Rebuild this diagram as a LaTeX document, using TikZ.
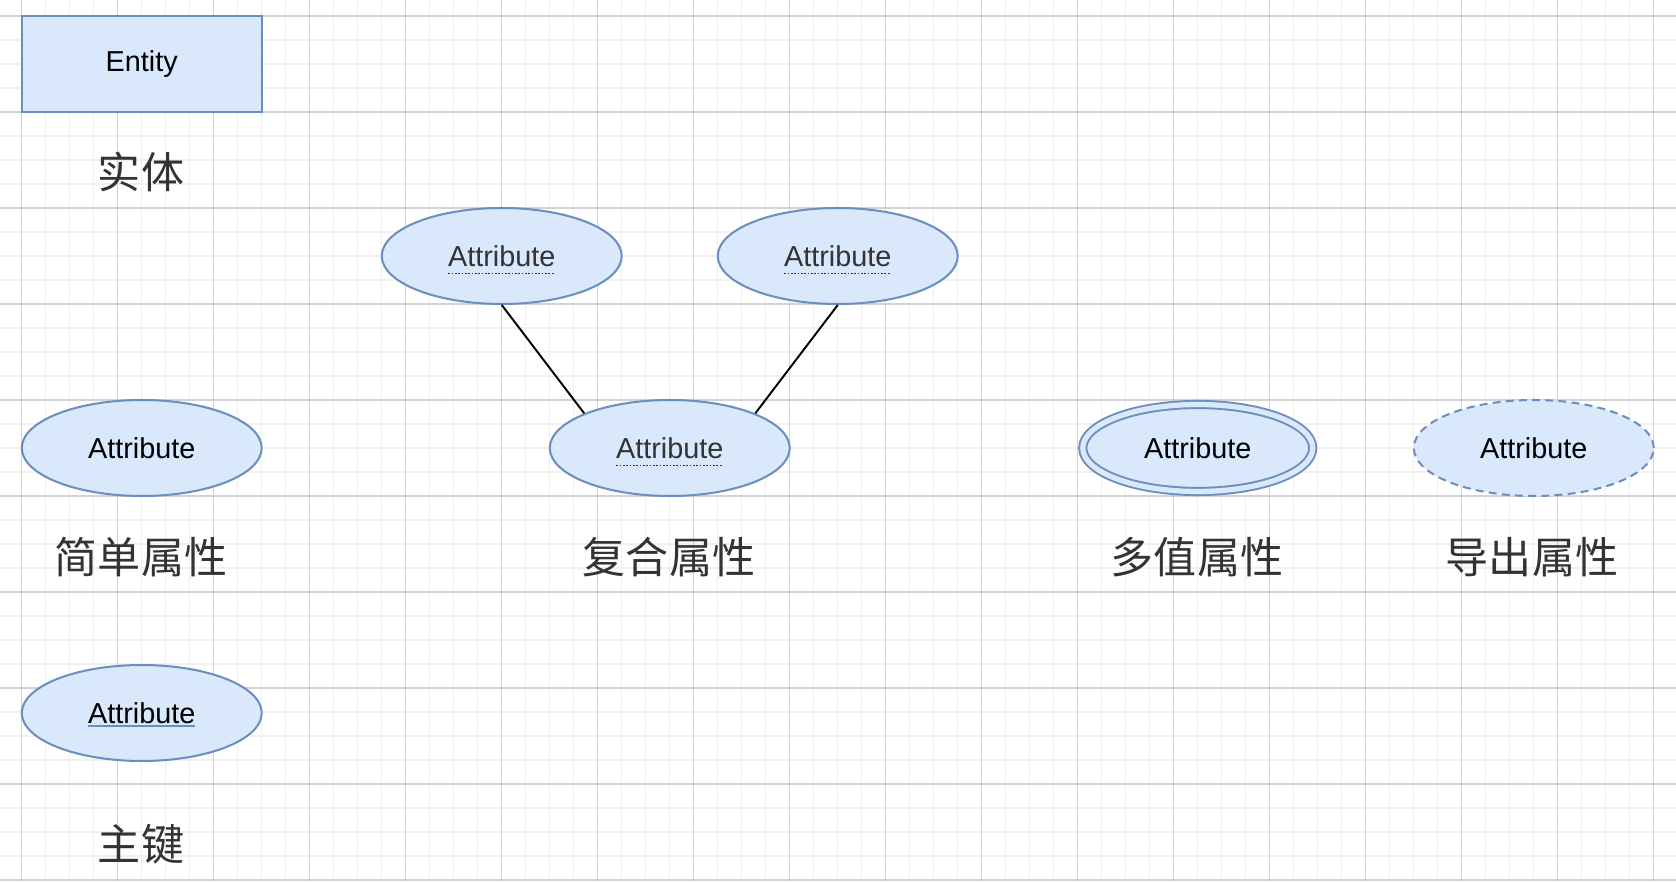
\documentclass[tikz,border=0pt]{standalone}
\usepackage{fontspec}
\setmainfont{Liberation Sans}
\newfontfamily\cjkfont{Noto Sans CJK SC}
\usetikzlibrary{shapes.geometric}

\definecolor{attrfill}{HTML}{DAE8FC}
\definecolor{attrline}{HTML}{6C8EBF}
\definecolor{labelgray}{HTML}{333333}
\definecolor{gridmajor}{HTML}{D3D3D3}
\definecolor{gridminor}{HTML}{F0F0F0}

\begin{document}
\begin{tikzpicture}[x=0.02cm, y=0.02cm,
  entity/.style={draw=attrline, fill=attrfill, line width=1.15pt, minimum width=4.8cm, minimum height=1.92cm, font=\fontsize{16.4}{18}\selectfont},
  attr/.style={ellipse, draw=attrline, fill=attrfill, line width=1.15pt, inner sep=0pt, minimum width=4.8cm, minimum height=1.92cm, font=\fontsize{16.4}{18}\selectfont},
  multiattr/.style={attr, double=attrfill, double distance=3pt, line width=1.1pt, minimum width=4.6cm, minimum height=1.74cm},
  derivedattr/.style={attr, dash pattern=on 4.5pt off 3pt},
  keyattr/.style={attr, path picture={\draw[line width=0.85pt] ([xshift=-1.07cm, yshift=-0.26cm]path picture bounding box.center) -- ++(2.14cm,0);}},
  partattr/.style={attr, text=labelgray, path picture={\draw[labelgray, line width=1pt, dash pattern=on 1pt off 0.9pt] ([xshift=-1.07cm, yshift=-0.35cm]path picture bounding box.center) -- ++(2.12cm,0);}},
  kindlabel/.style={text=labelgray, font=\cjkfont\fontsize{24.5}{28}\selectfont},
  link/.style={line width=1.1pt}
]
\useasboundingbox (0,0) rectangle (1676,882);
\fill[white] (0,0) rectangle (1676,882);

% Grid
\foreach \x in {21.5,45.5,...,1676} \draw[gridminor, line width=0.6pt] (\x,0) -- (\x,882);
\foreach \y in {2,26,...,882} \draw[gridminor, line width=0.6pt] (0,\y) -- (1676,\y);
\foreach \x in {21.5,117.5,...,1676} \draw[gridmajor, line width=0.6pt] (\x,0) -- (\x,882);
\foreach \y in {2,98,...,882} \draw[gridmajor, line width=0.6pt] (0,\y) -- (1676,\y);

% Entity
\node[entity] (ent) at (141.75,818) {Entity};
\node[kindlabel] (entlabel) at (141,710) {实体};

% Simple attribute
\node[attr] (simple) at (141.75,434) {Attribute};
\node[kindlabel] (simplelabel) at (141,325) {简单属性};

% Key attribute
\node[keyattr] (key) at (141.75,169) {Attribute};
\node[kindlabel] (keylabel) at (141,38) {主键};

% Composite attribute
\node[partattr] (comp) at (669.75,434) {Attribute};
\node[partattr] (partl) at (501.75,626) {Attribute};
\node[partattr] (partr) at (837.75,626) {Attribute};
\draw[link] (partl.south) -- (comp.north west);
\draw[link] (partr.south) -- (comp.north east);
\node[kindlabel] (complabel) at (669,325) {复合属性};

% Multi-valued attribute
\node[multiattr] (multi) at (1197.75,434) {Attribute};
\node[kindlabel] (multilabel) at (1197,325) {多值属性};

% Derived attribute
\node[derivedattr] (derived) at (1533.75,434) {Attribute};
\node[kindlabel] (derivedlabel) at (1532,325) {导出属性};
\end{tikzpicture}
\end{document}
